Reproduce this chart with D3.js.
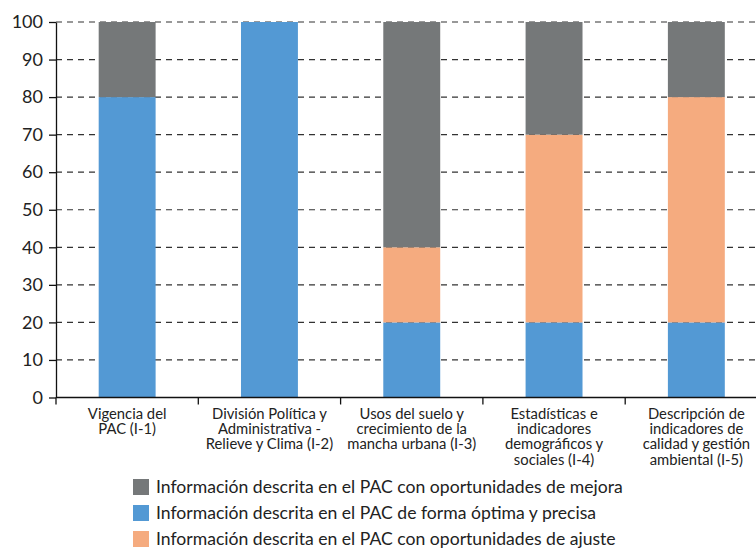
<!DOCTYPE html>
<html>
<head>
<meta charset="utf-8">
<script src="https://cdn.jsdelivr.net/npm/d3@7"></script>
<style>
  body { margin: 0; background: #fff; }
  svg { display: block; font-family: Lato, "Open Sans", sans-serif; }
</style>
</head>
<body>
<svg id="chart" width="756" height="548"></svg>
<script>
// categories, one array of label lines each
const categories = ["I-1", "I-2", "I-3", "I-4", "I-5"];
const categoryLines = [
  ["Vigencia del", "PAC (I-1)"],
  ["División Política y", "Administrativa -", "Relieve y Clima (I-2)"],
  ["Usos del suelo y", "crecimiento de la", "mancha urbana (I-3)"],
  ["Estadísticas e", "indicadores", "demográficos y", "sociales (I-4)"],
  ["Descripción de", "indicadores de", "calidad y gestión", "ambiental (I-5)"]
];

// series values (percent), stacked bottom to top: optima, ajuste, mejora
const optima = [80, 100, 20, 20, 20];
const ajuste = [0, 0, 20, 50, 60];
const mejora = [20, 0, 60, 30, 20];

const yTicks = [0, 10, 20, 30, 40, 50, 60, 70, 80, 90, 100];

const seriesKeys = ["optima", "ajuste", "mejora"];
const colors = { optima: "#5399d4", ajuste: "#f5ab7f", mejora: "#757879" };
const legendOrder = ["mejora", "optima", "ajuste"];
const legendLabels = {
  mejora: "Información descrita en el PAC con oportunidades de mejora",
  optima: "Información descrita en el PAC de forma óptima y precisa",
  ajuste: "Información descrita en el PAC con oportunidades de ajuste"
};

const rows = categories.map((c, i) => ({ cat: c, optima: optima[i], ajuste: ajuste[i], mejora: mejora[i] }));

const marginLeft = 56;
const plotTop = 22;
const plotBottom = 397.5;
const svg = d3.select("#chart");
const width = +svg.attr("width");

const x = d3.scaleBand()
    .domain(categories)
    .range([marginLeft, marginLeft + 5 * 142.3])
    .paddingInner(0.6)
    .paddingOuter(0.3);

const y = d3.scaleLinear()
    .domain([0, 100])
    .range([plotBottom, plotTop]);

// dashed grid
svg.append("g")
  .selectAll("line")
  .data(yTicks.filter(d => d > 0))
  .join("line")
    .attr("x1", marginLeft)
    .attr("x2", width)
    .attr("y1", d => y(d))
    .attr("y2", d => y(d))
    .attr("stroke", "#333")
    .attr("stroke-width", 1.2)
    .attr("stroke-dasharray", "6,5");

// stacked bars
const stack = d3.stack().keys(seriesKeys)(rows);
svg.append("g")
  .selectAll("g")
  .data(stack)
  .join("g")
    .attr("fill", d => colors[d.key])
  .selectAll("rect")
  .data(d => d.filter(p => p[1] > p[0]))
  .join("rect")
    .attr("x", d => x(d.data.cat))
    .attr("width", x.bandwidth())
    .attr("y", d => y(d[1]))
    .attr("height", d => y(d[0]) - y(d[1]));

// y axis
const yAxis = svg.append("g")
    .attr("transform", `translate(${marginLeft},0)`)
    .call(d3.axisLeft(y).tickValues(yTicks).tickSize(7).tickPadding(6).tickSizeOuter(0));
yAxis.select(".domain").attr("stroke", "#111").attr("stroke-width", 1.3);
yAxis.selectAll(".tick line").attr("stroke", "#111").attr("stroke-width", 1.3);
yAxis.selectAll(".tick text")
    .attr("font-family", "Lato, sans-serif")
    .attr("font-size", 18)
    .attr("fill", "#222");

// x axis line and band boundary ticks
const gap = (x.step() - x.bandwidth()) / 2;
const bounds = categories.map(c => x(c) - gap);
svg.append("line")
    .attr("x1", marginLeft)
    .attr("x2", width)
    .attr("y1", plotBottom)
    .attr("y2", plotBottom)
    .attr("stroke", "#111")
    .attr("stroke-width", 1.3);
svg.append("g")
  .selectAll("line")
  .data(bounds)
  .join("line")
    .attr("x1", d => d)
    .attr("x2", d => d)
    .attr("y1", plotBottom)
    .attr("y2", plotBottom + 7)
    .attr("stroke", "#111")
    .attr("stroke-width", 1.3);

// category labels
svg.append("g")
  .selectAll("text")
  .data(categories)
  .join("text")
    .attr("text-anchor", "middle")
    .attr("font-size", 14.8)
    .attr("fill", "#222")
    .attr("transform", d => `translate(${x(d) + x.bandwidth() / 2},418.5)`)
  .selectAll("tspan")
  .data((d, i) => categoryLines[i])
  .join("tspan")
    .attr("x", 0)
    .attr("y", (d, i) => i * 15.4)
    .text(d => d);

// legend
const legend = svg.append("g")
  .selectAll("g")
  .data(legendOrder)
  .join("g")
    .attr("transform", (d, i) => `translate(133,${479 + i * 26})`);
legend.append("rect")
    .attr("width", 16)
    .attr("height", 16)
    .attr("fill", d => colors[d]);
legend.append("text")
    .attr("x", 23)
    .attr("y", 14)
    .attr("font-size", 17.6)
    .attr("fill", "#222")
    .text(d => legendLabels[d]);
</script>
</body>
</html>
